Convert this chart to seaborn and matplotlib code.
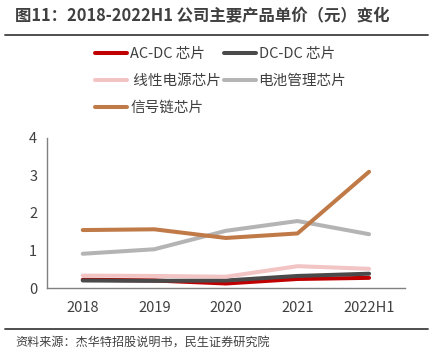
import numpy as np
import pandas as pd
import matplotlib
matplotlib.use('Agg')
import matplotlib.pyplot as plt
import seaborn as sns
from matplotlib.lines import Line2D

# Data -----------------------------------------------------------------------
years = ['2018', '2019', '2020', '2021', '2022H1']
acdc = [0.22, 0.20, 0.12, 0.24, 0.27]
dcdc = [0.20, 0.19, 0.20, 0.32, 0.38]
linear = [0.33, 0.32, 0.30, 0.58, 0.51]
battery = [0.91, 1.03, 1.52, 1.78, 1.43]
signal = [1.54, 1.56, 1.33, 1.45, 3.09]

names = ['AC-DC 芯片', 'DC-DC 芯片', ' 线性电源芯片', '电池管理芯片', '信号链芯片']
colors = ['#C00000', '#4A4A4A', '#F2C4C4', '#B4B4B4', '#C07A48']

sns.set_style('white')
plt.rcParams['font.family'] = ['Noto Sans CJK SC', 'DejaVu Sans']

df = pd.DataFrame({'year': years * 5,
                   'value': acdc + dcdc + linear + battery + signal,
                   'series': np.repeat(names, len(years))})

fig = plt.figure(figsize=(4.33, 3.63), dpi=100)
ax = fig.add_axes([0.1085, 0.2066, 0.8265, 0.4146])

sns.lineplot(data=df, x='year', y='value', hue='series', hue_order=names,
             palette=colors, linewidth=2.9, legend=False, ax=ax, sort=False)

ax.set_xlim(-0.5, 4.5)
ax.set_ylim(0, 4)
ax.set_yticks([0, 1, 2, 3, 4])
ax.set_xticks(range(5))
ax.set_xticklabels(years)
ax.set_xticks(np.arange(-0.5, 5, 1), minor=True)
ax.tick_params(axis='x', which='major', length=0, pad=9, labelsize=10.5, colors='#404040')
ax.tick_params(axis='x', which='minor', length=5, width=1, color='#808080', direction='out')
ax.tick_params(axis='y', length=5, width=1, color='#808080', labelsize=10.5, labelcolor='#404040', pad=2)
ax.set_xlabel('')
ax.set_ylabel('')
for s in ['top', 'right']:
    ax.spines[s].set_visible(False)
for s in ['left', 'bottom']:
    ax.spines[s].set_color('#808080')
    ax.spines[s].set_linewidth(1)

# Legend, reordered so that rows read across as in the original
order = [0, 2, 4, 1, 3]
handles = [Line2D([], [], color=colors[i], lw=2.9) for i in order]
labels = [names[i] for i in order]
fig.legend(handles, labels, loc='upper left', bbox_to_anchor=(0.19, 0.907),
           ncol=2, frameon=False, fontsize=10.5, handlelength=2.2, handletextpad=0.2,
           columnspacing=0.15, labelspacing=0.9, labelcolor='#404040')

# Title and source
fig.text(15 / 433, 1 - 16 / 363, '图11：2018-2022H1 公司主要产品单价（元）变化',
         fontsize=11.8, fontweight='bold', color='#404040', va='center', ha='left')
fig.add_artist(Line2D([5 / 433, 428 / 433], [1 - 35 / 363] * 2, color='#404040', lw=1.3))
fig.add_artist(Line2D([5 / 433, 428 / 433], [1 - 329 / 363] * 2, color='#404040', lw=1.3))
fig.text(15 / 433, 1 - 343 / 363, '资料来源：杰华特招股说明书，民生证券研究院',
         fontsize=8.7, color='#404040', va='center', ha='left')

fig.savefig('out.png', dpi=100)
